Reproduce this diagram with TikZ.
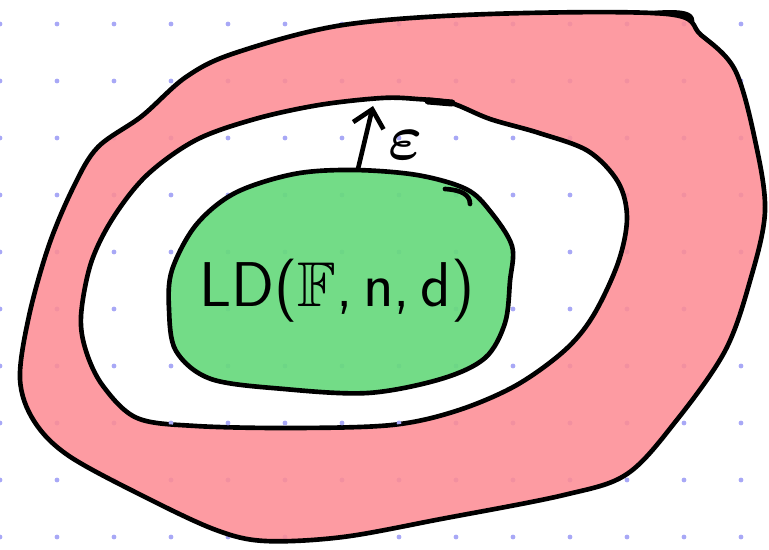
\documentclass[tikz,border=0pt]{standalone}
\usepackage{amsmath,amssymb,graphicx}
\usetikzlibrary{arrows.meta}

\definecolor{bandred}{RGB}{253,141,149}
\definecolor{coregreen}{RGB}{104,218,125}
\definecolor{gridblue}{RGB}{168,168,246}

\begin{document}
\begin{tikzpicture}[
    x=0.025cm, y=-0.025cm,
    outline/.style={line width=3.3pt, line join=round, line cap=round, draw=black},
    band/.style={outline, fill=bandred, fill opacity=0.88},
    core/.style={outline, fill=coregreen, fill opacity=0.92},
    gridpt/.style={fill=gridblue, draw=none},
    sketchtext/.style={font=\sffamily\fontsize{45}{54}\selectfont, inner sep=0pt}
]
    \useasboundingbox (0,0) rectangle (769,550);

    % dotted paper
    \foreach \gx in {0,57,...,741}
        \foreach \gy in {24,81,...,540}
            \fill[gridpt] (\gx,\gy) circle (2.4);

    % outer red band
    \draw[band] plot[smooth cycle, tension=0.55] coordinates {
        (667,14) (490,14) (343,25) (235,53) (186,77) (142,116) (98,147)
        (74,186) (49,245) (29,316) (20,379) (34,421) (69,456) (147,498)
        (216,530) (265,541) (343,537) (441,519) (564,495) (627,474)
        (676,421) (725,351) (750,281) (765,211) (755,140) (735,70) (701,35)};

    % white ring
    \draw[outline, fill=white] plot[smooth cycle, tension=0.55] coordinates {
        (417,99) (451,103) (490,119) (539,133) (588,151) (618,182) (627,218)
        (618,263) (593,316) (564,351) (515,386) (456,411) (392,425)
        (294,428) (196,426) (137,418) (103,386) (86,351) (81,316)
        (91,263) (113,218) (147,175) (196,140) (255,119) (319,105) (382,98)};

    % dots seen through the white ring
    \begin{scope}
        \clip plot[smooth cycle, tension=0.55] coordinates {
            (417,99) (451,103) (490,119) (539,133) (588,151) (618,182) (627,218)
            (618,263) (593,316) (564,351) (515,386) (456,411) (392,425)
            (294,428) (196,426) (137,418) (103,386) (86,351) (81,316)
            (91,263) (113,218) (147,175) (196,140) (255,119) (319,105) (382,98)};
        \foreach \gx in {0,57,...,741}
            \foreach \gy in {24,81,...,540}
                \fill[gridpt] (\gx,\gy) circle (2.4);
    \end{scope}

    % green core
    \draw[core] plot[smooth cycle, tension=0.55] coordinates {
        (353,170) (417,175) (466,189) (490,211) (512,246) (510,281)
        (505,323) (485,358) (441,379) (368,393) (284,389) (211,379)
        (176,351) (169,309) (172,270) (196,225) (235,193) (294,174)};

    % pen strokes left over
    \draw[outline] (655,13) .. controls (684,11) and (692,14) .. (692,21);
    \draw[line width=5pt, line cap=round] (428,101) -- (452,103);
    \draw[outline] (445,189) .. controls (462,190) and (470,195) .. (470,204);

    % epsilon gap
    \coordinate (foot) at (358,169);
    \coordinate (tip) at (373,106);
    \draw[outline, -{Straight Barb[length=0.42cm, width=0.78cm]}] (foot) -- (tip);
    \node[inner sep=0pt] (eps) at (406,145) {\scalebox{4.6}{$\boldsymbol{\varepsilon}$}};

    % set label
    \node[sketchtext] (ld) at (337,291) {LD($\mathbb{F}$,\,n,\,d)};

\end{tikzpicture}
\end{document}
